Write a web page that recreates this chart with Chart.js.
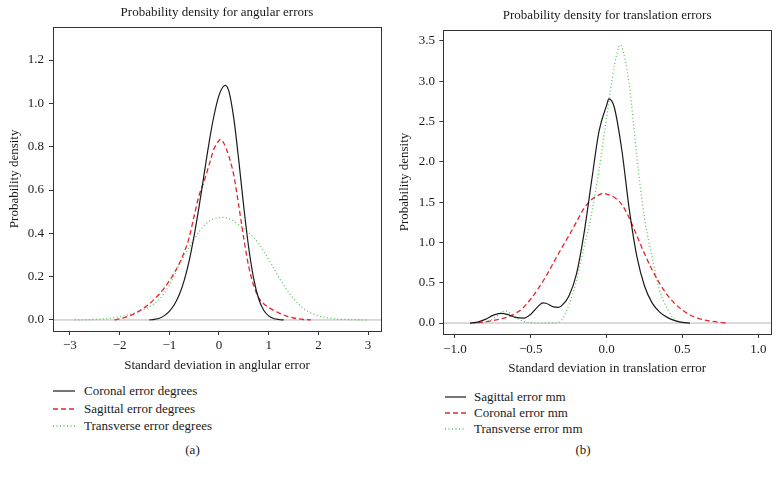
<!DOCTYPE html>
<html>
<head>
<meta charset="utf-8">
<script src="https://cdn.jsdelivr.net/npm/chart.js@4.4.1/dist/chart.umd.min.js"></script>
<style>
  html,body{margin:0;padding:0;background:#fff;}
  body{width:779px;height:477px;position:relative;overflow:hidden;font-family:"Liberation Serif","Times New Roman",serif;color:#1a1a1a;}
  canvas{position:absolute;}
  .leg{position:absolute;font-size:13px;line-height:16px;height:16px;white-space:nowrap;}
  .cap{position:absolute;font-size:13px;line-height:16px;transform:translateX(-50%);}
</style>
</head>
<body>
<canvas id="cA" width="390" height="380" style="left:0;top:0;width:390px;height:380px"></canvas>
<canvas id="cB" width="389" height="380" style="left:390px;top:0;width:389px;height:380px"></canvas>
<div id="legends"></div>
<div class="cap" style="left:192.5px;top:442px">(a)</div>
<div class="cap" style="left:583px;top:442px">(b)</div>
<script>
// ---------- Panel (a): angular errors ----------
const angularTitle = 'Probability density for angular errors';
const angularXTitle = 'Standard deviation in anglular error';
const angularLabels = ['Coronal error degrees', 'Sagittal error degrees', 'Transverse error degrees'];
const angularXTicks = [-3, -2, -1, 0, 1, 2, 3];
const angularYTicks = [0, 0.2, 0.4, 0.6, 0.8, 1.0, 1.2];

const angularCoronalX = [-1.4,-1.3,-1.2,-1.1,-1.0,-0.9,-0.8,-0.7,-0.6,-0.5,-0.4,-0.3,-0.2,-0.1,0.0,0.1,0.13,0.2,0.3,0.4,0.5,0.6,0.7,0.8,0.9,1.0,1.1,1.2,1.3];
const angularCoronalY = [0.000,0.003,0.008,0.020,0.040,0.070,0.116,0.183,0.273,0.389,0.524,0.672,0.818,0.944,1.037,1.081,1.083,1.055,0.927,0.732,0.519,0.330,0.189,0.097,0.045,0.019,0.007,0.002,0.000];

const angularSagittalX = [-2.1,-2.0,-1.9,-1.8,-1.7,-1.6,-1.5,-1.4,-1.3,-1.2,-1.1,-1.0,-0.9,-0.8,-0.7,-0.6,-0.5,-0.4,-0.3,-0.2,-0.1,0.0,0.03,0.1,0.2,0.3,0.4,0.5,0.6,0.7,0.8,0.9,1.0,1.1,1.2,1.3,1.4,1.5,1.6,1.7,1.8,1.85];
const angularSagittalY = [0.000,0.005,0.011,0.019,0.029,0.042,0.057,0.075,0.096,0.120,0.148,0.180,0.217,0.260,0.312,0.380,0.480,0.575,0.640,0.715,0.790,0.828,0.834,0.815,0.755,0.665,0.525,0.375,0.245,0.158,0.102,0.075,0.058,0.044,0.033,0.023,0.015,0.009,0.005,0.002,0.001,0.000];

const angularTransverseX = [-2.9,-2.7,-2.5,-2.3,-2.1,-2.0,-1.9,-1.8,-1.7,-1.6,-1.5,-1.4,-1.3,-1.2,-1.1,-1.0,-0.9,-0.8,-0.7,-0.6,-0.5,-0.4,-0.3,-0.2,-0.1,0.0,0.09,0.2,0.3,0.4,0.5,0.6,0.7,0.8,0.9,1.0,1.1,1.2,1.3,1.4,1.5,1.6,1.7,1.8,1.9,2.0,2.2,2.4,2.6,2.8,3.0];
const angularTransverseY = [0.000,0.001,0.003,0.006,0.011,0.015,0.020,0.026,0.033,0.041,0.050,0.061,0.076,0.095,0.125,0.160,0.205,0.255,0.298,0.335,0.372,0.408,0.435,0.455,0.467,0.472,0.474,0.468,0.456,0.440,0.422,0.402,0.380,0.352,0.318,0.280,0.240,0.200,0.162,0.128,0.098,0.073,0.053,0.038,0.027,0.019,0.009,0.004,0.002,0.001,0.000];

// ---------- Panel (b): translation errors ----------
const transTitle = 'Probability density for translation errors';
const transXTitle = 'Standard deviation in translation error';
const transLabels = ['Sagittal error mm', 'Coronal error mm', 'Transverse error mm'];
const transXTicks = [-1.0, -0.5, 0.0, 0.5, 1.0];
const transYTicks = [0, 0.5, 1.0, 1.5, 2.0, 2.5, 3.0, 3.5];

const transSagittalX = [-0.90,-0.85,-0.80,-0.75,-0.70,-0.65,-0.60,-0.55,-0.50,-0.45,-0.42,-0.40,-0.35,-0.32,-0.30,-0.25,-0.20,-0.15,-0.10,-0.05,0.00,0.015,0.05,0.10,0.15,0.20,0.25,0.30,0.35,0.40,0.45,0.50,0.55];
const transSagittalY = [0.000,0.012,0.045,0.095,0.120,0.105,0.070,0.060,0.110,0.210,0.250,0.245,0.200,0.195,0.210,0.330,0.600,1.100,1.750,2.380,2.700,2.780,2.680,2.150,1.400,0.820,0.460,0.250,0.135,0.070,0.030,0.008,0.000];

const transCoronalX = [-0.90,-0.85,-0.80,-0.75,-0.70,-0.65,-0.60,-0.55,-0.50,-0.45,-0.40,-0.35,-0.30,-0.25,-0.20,-0.15,-0.10,-0.05,-0.02,0.00,0.05,0.10,0.15,0.20,0.25,0.30,0.35,0.40,0.45,0.50,0.55,0.60,0.65,0.70,0.75,0.80];
const transCoronalY = [0.000,0.005,0.015,0.030,0.050,0.075,0.120,0.190,0.300,0.430,0.580,0.750,0.920,1.080,1.250,1.420,1.530,1.590,1.610,1.600,1.560,1.470,1.300,1.080,0.860,0.660,0.490,0.350,0.240,0.160,0.100,0.060,0.035,0.020,0.008,0.000];

const transTransverseX = [-0.85,-0.80,-0.75,-0.70,-0.67,-0.65,-0.60,-0.55,-0.50,-0.45,-0.40,-0.35,-0.30,-0.25,-0.20,-0.15,-0.10,-0.05,0.00,0.05,0.09,0.10,0.15,0.20,0.25,0.30,0.35,0.40,0.45,0.50,0.55];
const transTransverseY = [0.000,0.010,0.050,0.120,0.150,0.140,0.070,0.020,0.005,0.000,0.000,0.002,0.030,0.220,0.520,0.930,1.350,1.900,2.550,3.180,3.450,3.430,2.950,2.050,1.300,0.820,0.400,0.180,0.040,0.005,0.000];

// ---------- styles ----------
const FONT = "'Liberation Serif', 'Times New Roman', serif";
const TEXT = '#1a1a1a';
const seriesStyle = [
  {color:'#1a1a1a', width:1.2, dash:[]},
  {color:'#e3262e', width:1.3, dash:[5,3]},
  {color:'#55c855', width:1.3, dash:[1,2.5]}
];
Chart.defaults.font.family = FONT;
Chart.defaults.color = TEXT;

const pts = (xs, ys) => xs.map((x, i) => ({x, y: ys[i]}));

const framePlugin = {
  id: 'frame',
  afterDraw(chart) {
    const {ctx, chartArea: a} = chart;
    ctx.save();
    ctx.strokeStyle = '#333';
    ctx.lineWidth = 1;
    ctx.strokeRect(Math.round(a.left) + 0.5, Math.round(a.top) + 0.5, Math.round(a.right - a.left), Math.round(a.bottom - a.top));
    ctx.restore();
  }
};

function makeChart(id, o) {
  const lineDs = o.series.map((s, i) => ({
    label: o.labels[i],
    data: pts(s[0], s[1]),
    borderColor: seriesStyle[i].color,
    borderWidth: seriesStyle[i].width,
    borderDash: seriesStyle[i].dash,
    showLine: true,
    pointRadius: 0,
    fill: false,
    cubicInterpolationMode: 'monotone'
  }));
  lineDs.push({
    label: 'zero',
    data: [{x: o.xMin, y: 0}, {x: o.xMax, y: 0}],
    borderColor: '#b4b4b4',
    borderWidth: 1,
    showLine: true,
    pointRadius: 0
  });
  const tickGrid = {display: true, drawOnChartArea: false, drawTicks: true, tickLength: 4, color: '#333', lineWidth: 1};
  return new Chart(document.getElementById(id), {
    type: 'scatter',
    data: {datasets: lineDs},
    options: {
      responsive: false,
      animation: false,
      devicePixelRatio: 1,
      layout: {padding: o.pad},
      plugins: {
        legend: {display: false},
        tooltip: {enabled: false},
        title: {display: true, text: o.title, fullSize: false, color: TEXT, font: {size: 13, weight: 'normal'}, padding: o.titlePad}
      },
      scales: {
        x: {
          type: 'linear', min: o.xMin, max: o.xMax,
          afterBuildTicks: s => { s.ticks = o.xTicks.map(v => ({value: v})); },
          afterFit: s => { s.height = o.xH; },
          ticks: {padding: o.xTickPad, color: TEXT, font: {size: 13}, maxRotation: 0, autoSkip: false,
                  callback: v => (v < 0 ? '\u2212' : '') + Math.abs(v).toFixed(o.xDec)},
          grid: tickGrid,
          border: {display: false},
          title: {display: true, text: o.xTitle, color: TEXT, font: {size: 13}, padding: {top: 0, bottom: 0}}
        },
        y: {
          type: 'linear', min: o.yMin, max: o.yMax,
          afterBuildTicks: s => { s.ticks = o.yTicks.map(v => ({value: v})); },
          afterFit: s => { s.width = o.yW; },
          ticks: {padding: o.yTickPad, color: TEXT, font: {size: 13}, autoSkip: false,
                  callback: v => v.toFixed(1)},
          grid: tickGrid,
          border: {display: false},
          title: {display: true, text: 'Probability density', color: TEXT, font: {size: 13}, padding: {top: 7, bottom: 0}}
        }
      }
    },
    plugins: [framePlugin]
  });
}

makeChart('cA', {
  title: angularTitle, xTitle: angularXTitle, labels: angularLabels,
  series: [[angularCoronalX, angularCoronalY], [angularSagittalX, angularSagittalY], [angularTransverseX, angularTransverseY]],
  xMin: -3.34, xMax: 3.26, yMin: -0.051, yMax: 1.354,
  xTicks: angularXTicks, yTicks: angularYTicks, xDec: 0,
  pad: {left: 0, right: 9, top: 0, bottom: 6.2},
  titlePad: {top: 5, bottom: 6.1},
  xH: 42.8, yW: 53, xTickPad: 2.5, yTickPad: 5
});

makeChart('cB', {
  title: transTitle, xTitle: transXTitle, labels: transLabels,
  series: [[transSagittalX, transSagittalY], [transCoronalX, transCoronalY], [transTransverseX, transTransverseY]],
  xMin: -1.077, xMax: 1.084, yMin: -0.136, yMax: 3.635,
  xTicks: transXTicks, yTicks: transYTicks, xDec: 1,
  pad: {left: 0, right: 8, top: 0, bottom: 3.9},
  titlePad: {top: 8, bottom: 6.4},
  xH: 42.1, yW: 53.3, xTickPad: 3.5, yTickPad: 4.3
});

// ---------- HTML legends ----------
const SVGNS = 'http://www.w3.org/2000/svg';
function addLegend(labels, sx, sw, tx, ys) {
  const host = document.getElementById('legends');
  labels.forEach((lab, i) => {
    const st = seriesStyle[i];
    const svg = document.createElementNS(SVGNS, 'svg');
    svg.setAttribute('width', sw);
    svg.setAttribute('height', 4);
    svg.style.cssText = 'position:absolute;left:' + sx + 'px;top:' + (ys[i] - 2) + 'px';
    const ln = document.createElementNS(SVGNS, 'line');
    ln.setAttribute('x1', 0); ln.setAttribute('y1', 2);
    ln.setAttribute('x2', sw); ln.setAttribute('y2', 2);
    ln.setAttribute('stroke', st.color);
    ln.setAttribute('stroke-width', st.width);
    if (st.dash.length) ln.setAttribute('stroke-dasharray', st.dash.join(' '));
    svg.appendChild(ln);
    host.appendChild(svg);
    const d = document.createElement('div');
    d.className = 'leg';
    d.style.left = tx + 'px';
    d.style.top = (ys[i] - 8) + 'px';
    d.textContent = lab;
    host.appendChild(d);
  });
}
addLegend(angularLabels, 53, 22, 84, [391, 408.5, 426]);
addLegend(transLabels, 445, 21, 474, [396.5, 412.7, 429]);
</script>
</body>
</html>
